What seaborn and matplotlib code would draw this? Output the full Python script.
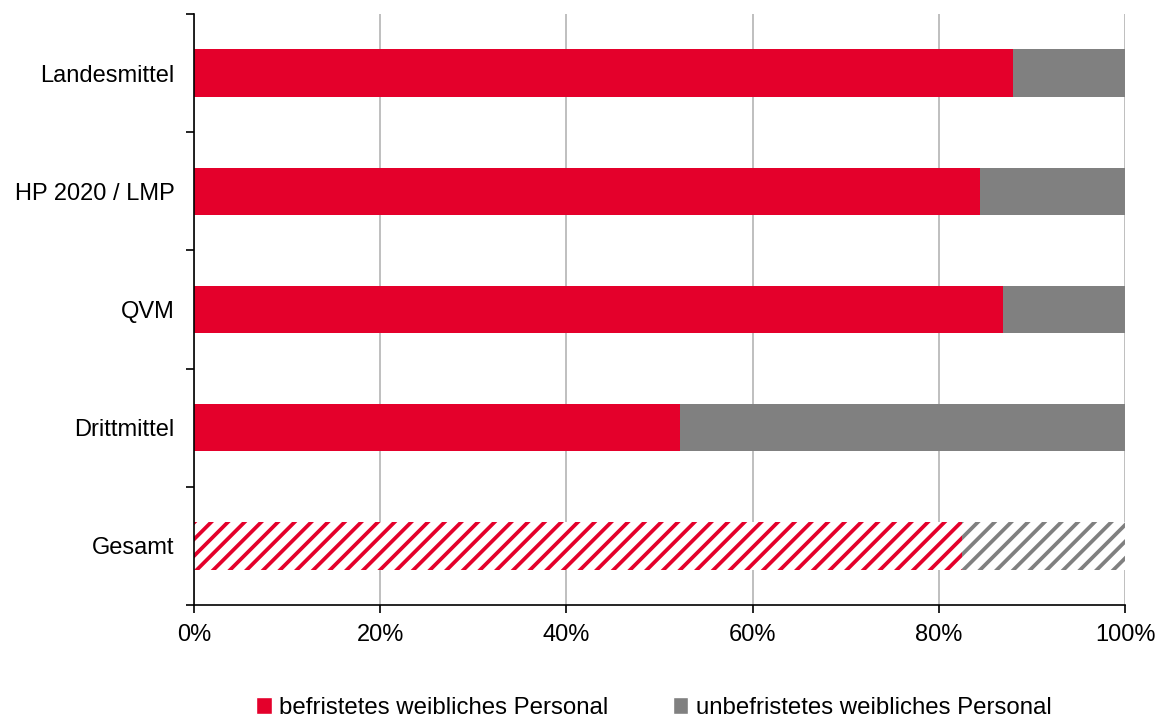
import pandas as pd
import seaborn as sns
import matplotlib.pyplot as plt
from matplotlib.patches import Patch

# data (share of female staff, %)
categories = ['Landesmittel', 'HP 2020 / LMP', 'QVM', 'Drittmittel', 'Gesamt']
befristet = [88.0, 84.4, 86.9, 52.2, 82.5]
unbefristet = [100 - v for v in befristet]
series_names = ['befristetes weibliches Personal', 'unbefristetes weibliches Personal']
x_ticks = [0, 20, 40, 60, 80, 100]

red = '#e4002b'
grey = '#808080'

sns.set_style('white')
plt.rcParams['font.family'] = ['Liberation Sans', 'DejaVu Sans']
plt.rcParams['font.size'] = 17
plt.rcParams['text.color'] = 'black'
plt.rcParams['xtick.color'] = 'black'
plt.rcParams['ytick.color'] = 'black'
plt.rcParams['hatch.linewidth'] = 2.7

df = pd.DataFrame({'cat': categories, 'bef': befristet,
                   'total': [b + u for b, u in zip(befristet, unbefristet)]})

fig = plt.figure(figsize=(11.59, 7.19), dpi=100)
ax = fig.add_axes([0.1674, 0.1586, 0.8033, 0.8219])

sns.barplot(data=df, y='cat', x='total', order=categories, color=grey,
            width=0.4, saturation=1, linewidth=0, ax=ax, zorder=3)
sns.barplot(data=df, y='cat', x='bef', order=categories, color=red,
            width=0.4, saturation=1, linewidth=0, ax=ax, zorder=4)

# Gesamt drawn as hatched bars
n = len(categories)
for i, p in enumerate(ax.patches):
    if i % n == n - 1:
        col = p.get_facecolor()
        p.set_facecolor('white')
        p.set_edgecolor(col)
        p.set_hatch('//')
        p.set_linewidth(0)

ax.set_xlim(0, 100)
ax.set_ylim(n - 0.5, -0.5)
ax.set_xticks(x_ticks)
ax.set_xticklabels([f'{t}%' for t in x_ticks])
ax.set_xlabel('')
ax.set_ylabel('')

ax.set_yticks([i - 0.5 for i in range(n + 1)], minor=True)
ax.tick_params(axis='y', which='major', length=0, pad=14, labelcolor='black')
ax.tick_params(axis='y', which='minor', length=6, width=1.2, direction='out', color='black', left=True)
ax.tick_params(axis='x', length=6, width=1.2, direction='out', color='black', bottom=True, pad=8,
               labelcolor='black')

ax.grid(axis='x', color='#b4b4b4', linewidth=1.2, zorder=0)
ax.set_axisbelow(True)
for s in ['top', 'right']:
    ax.spines[s].set_visible(False)
for s in ['left', 'bottom']:
    ax.spines[s].set_color('black')
    ax.spines[s].set_linewidth(1.2)
    ax.spines[s].set_zorder(5)

handles = [Patch(facecolor=red), Patch(facecolor=grey)]
fig.legend(handles, series_names, loc='lower center', ncol=2, frameon=False,
           bbox_to_anchor=(0.564, -0.03), handlelength=0.65, handleheight=0.65,
           handletextpad=0.3, columnspacing=2.7, fontsize=17.3, labelcolor='black')

fig.savefig('out.png', dpi=100)
